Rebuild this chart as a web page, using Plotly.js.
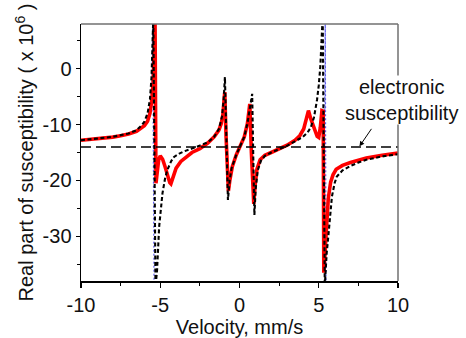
<!DOCTYPE html>
<html>
<head>
<meta charset="utf-8">
<script src="https://cdn.plot.ly/plotly-3.0.1.min.js"></script>
<style>
  html, body { margin: 0; padding: 0; background: #fff; }
  #chart { width: 466px; height: 338px; }
</style>
</head>
<body>
<div id="chart"></div>
<script>
// ---- data ----
// Red solid curve (fit)
const redX = [-10, -9, -8, -7.5, -7, -6.5, -6.2, -6.0, -5.8, -5.65, -5.55, -5.45, -5.38, -5.33,
  -5.27, -5.2, -5.1, -5.0, -4.85, -4.7, -4.55, -4.4, -4.33, -4.2, -4.0, -3.7, -3.3, -3.0, -2.5,
  -2.0, -1.6, -1.3, -1.15, -1.05, -0.97, -0.93, -0.85, -0.78, -0.7, -0.6, -0.45, -0.2, 0.05,
  0.3, 0.5, 0.6, 0.65, 0.75, 0.85, 0.9, 0.98, 1.1, 1.3, 1.6, 2.0, 2.5, 3.0, 3.5, 3.8, 4.05,
  4.25, 4.35, 4.5, 4.7, 4.9, 5.0, 5.1, 5.2, 5.28, 5.32, 5.4, 5.5, 5.6, 5.75, 5.9, 6.1, 6.5,
  7.0, 7.5, 8.0, 9.0, 10.0];
const redY = [-12.8, -12.6, -12.25, -12.0, -11.7, -11.2, -10.7, -10.2, -9.4, -8.0, -6.0, -2.5, 3, 9,
  -20.5, -18.5, -16.3, -15.6, -16.2, -17.5, -19.0, -20.4, -20.6, -19.3, -17.8, -16.6, -15.6, -15.0, -14.3,
  -13.3, -12.2, -11.0, -9.8, -8.3, -5.5, -4.2, -12, -19, -21.9, -19.8, -17.5, -15.4, -13.9,
  -12.2, -9.8, -7.5, -6.3, -15, -22.5, -24.2, -21, -18, -16.3, -15.5, -15.0, -14.4, -13.7, -12.8, -12.0, -10.8,
  -8.8, -7.5, -9.0, -10.8, -12.1, -12.3, -10.5, -7.5, -7.6, -36.5, -33, -27.5, -23.3, -20.3, -19.0, -18.0, -17.3,
  -16.8, -16.4, -16.0, -15.5, -15.1];

// Black dotted curve
const blackX = [-10, -8, -7, -6.5, -6.2, -6.0, -5.8, -5.65, -5.55, -5.48, -5.44, -5.3,
  -5.2, -5.07, -4.95, -4.86, -4.7, -4.55, -4.3, -4.13, -3.8, -3.5, -3.0, -2.66, -2.0, -1.6,
  -1.3, -1.1, -1.0, -0.92, -0.82, -0.73, -0.62, -0.5, -0.2, 0.05, 0.3, 0.5, 0.65, 0.75, 0.8,
  0.87, 0.94, 1.02, 1.15, 1.35, 1.6, 2.0, 2.5, 3.0, 3.5, 4.0, 4.3, 4.5, 4.7, 4.89, 5.0, 5.1,
  5.2, 5.25, 5.38, 5.5, 5.62, 5.72, 5.83, 6.0, 6.14, 6.5, 7.0, 7.5, 8.0, 9.0, 10];
const blackY = [-12.8, -12.2, -11.6, -11.0, -10.2, -9.5, -8.0, -5.5, -1.5, 4, 9, -39,
  -36, -28.3, -24.5, -22.3, -19.7, -18.1, -16.5, -15.8, -15.2, -14.8, -14.3, -13.9, -13.2, -12.2,
  -10.8, -8.5, -5.5, -1.5, -14, -23.5, -20, -17.8, -15.4, -13.9, -12.2, -9.8, -7.0, -5.0, -4.5,
  -16, -26.2, -21.5, -18.2, -16.5, -15.6, -15.0, -14.4, -13.8, -13.0, -12.2, -11.4, -10.5, -8.7, -5.6, -3, 0.4,
  6.5, 9, -39, -33, -29.5, -25.5, -22.9, -20.5, -19.3, -18.2, -17.4, -16.8, -16.3, -15.7, -15.3];

// Blue thin dotted curve (visible only at the two outer resonances)
const blueX = [-5.6, -5.52, -5.48, -5.39, -5.33, null, 5.38, 5.41, 5.46];
const blueY = [-7.6, -3, 9, -39, -45, null, -7.5, 9, -39];

// Electronic susceptibility level
const electronicX = [-10, 10];
const electronicY = [-14, -14];

// Axis ticks
const xTickVals = [-10, -5, 0, 5, 10];
const xTickText = ['-10', '-5', '0', '5', '10'];
const yTickVals = [-30, -20, -10, 0];
const yTickText = ['-30', '-20', '-10', '0'];

const FONT = 'Liberation Sans, Arial, Helvetica, sans-serif';

const traces = [
  { x: blueX, y: blueY, type: 'scatter', mode: 'lines', connectgaps: false,
    line: { color: '#5b5bf0', width: 1.2, dash: '2px,2px' }, hoverinfo: 'skip' },
  { x: redX, y: redY, type: 'scatter', mode: 'lines',
    line: { color: '#ff0000', width: 3.6 }, hoverinfo: 'skip' },
  { x: blackX, y: blackY, type: 'scatter', mode: 'lines',
    line: { color: '#000000', width: 2.1, dash: '4px,2.5px' }, hoverinfo: 'skip' },
  { x: electronicX, y: electronicY, type: 'scatter', mode: 'lines',
    line: { color: '#000000', width: 1.5, dash: '10px,5px' }, hoverinfo: 'skip' }
];

const layout = {
  width: 466, height: 338,
  margin: { l: 81, r: 68, t: 24, b: 57 },
  paper_bgcolor: '#ffffff', plot_bgcolor: '#ffffff',
  showlegend: false,
  font: { family: FONT, size: 19, color: '#111' },
  xaxis: {
    range: [-10, 10], tickvals: xTickVals, ticktext: xTickText,
    ticks: 'outside', ticklen: 5, tickwidth: 1.2, tickcolor: '#000',
    minor: { dtick: 2.5, tick0: 0, ticks: 'outside', ticklen: 3, tickwidth: 1, tickcolor: '#000' },
    showline: true, linecolor: '#000', linewidth: 1.5, mirror: false,
    showgrid: false, zeroline: false,
    tickfont: { family: FONT, size: 20, color: '#111' },
    title: { text: 'Velocity, mm/s', font: { family: FONT, size: 20, color: '#111' }, standoff: 2 }
  },
  yaxis: {
    range: [-38, 8], tickvals: yTickVals, ticktext: yTickText,
    ticks: 'outside', ticklen: 4, tickwidth: 1.2, tickcolor: '#000',
    minor: { dtick: 5, tick0: 0, ticks: 'outside', ticklen: 3, tickwidth: 1, tickcolor: '#000' },
    showline: true, linecolor: '#000', linewidth: 1.5, mirror: false,
    showgrid: false, zeroline: false,
    tickfont: { family: FONT, size: 20, color: '#111' },
    title: { text: 'Real part of susceptibility ( x 10<sup>6</sup> )', font: { family: FONT, size: 20, color: '#111' }, standoff: 3 }
  },
  shapes: [
    { type: 'line', xref: 'paper', yref: 'paper', x0: 0, x1: 1, y0: 1, y1: 1,
      line: { color: '#707070', width: 1.5 }, layer: 'above' },
    { type: 'line', xref: 'paper', yref: 'paper', x0: 1, x1: 1, y0: 0, y1: 1,
      line: { color: '#707070', width: 1.5 }, layer: 'above' }
  ],
  annotations: [
    { x: 1.0126, y: 0.703, xref: 'paper', yref: 'paper', xanchor: 'center', yanchor: 'middle',
      text: 'electronic<br>susceptibility', showarrow: false, bgcolor: '#ffffff', borderpad: 0,
      font: { family: FONT, size: 20, color: '#111' } },
    { x: 7.57, y: -13.9, xref: 'x', yref: 'y', text: '', showarrow: true, arrowside: 'end',
      ax: 13, ay: -19, arrowhead: 2, arrowsize: 1, arrowwidth: 1, arrowcolor: '#000', standoff: 0 }
  ]
};

Plotly.newPlot('chart', traces, layout, { staticPlot: true, displayModeBar: false });
</script>
</body>
</html>
